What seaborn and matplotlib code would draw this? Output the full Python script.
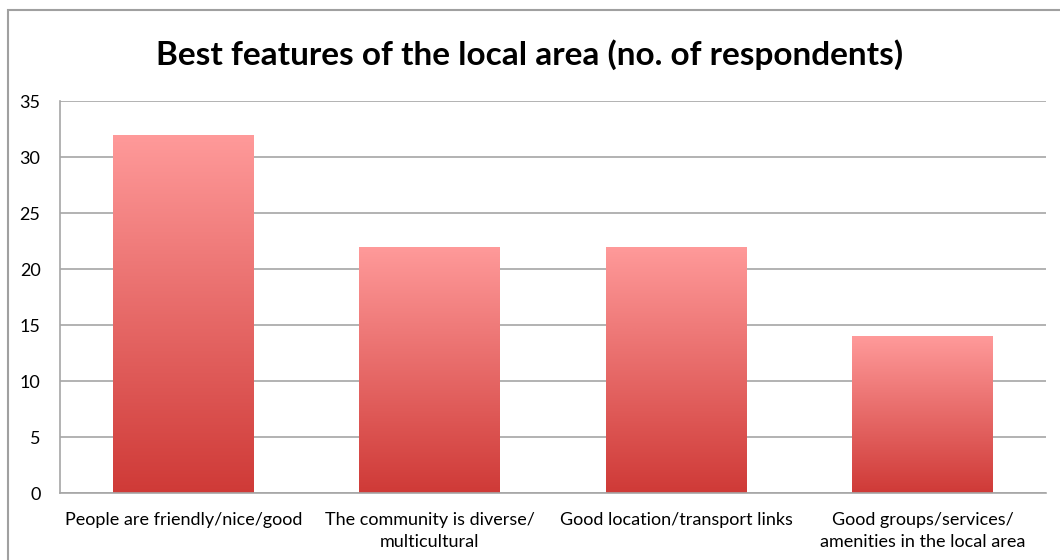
import numpy as np
import pandas as pd
import matplotlib.pyplot as plt
import matplotlib.colors as mcolors
import seaborn as sns
from matplotlib.patches import Rectangle

# Data
features = ['People are friendly/nice/good',
            'The community is diverse/\nmulticultural',
            'Good location/transport links',
            'Good groups/services/\namenities in the local area']
respondents = [32, 22, 22, 14]
y_ticks = [0, 5, 10, 15, 20, 25, 30, 35]

df = pd.DataFrame({'feature': features, 'count': respondents})

sns.set_style('white')
plt.rcParams['font.family'] = ['Lato', 'DejaVu Sans']
plt.rcParams['text.color'] = 'black'

fig = plt.figure(figsize=(10.6, 5.6), dpi=100)
ax = fig.add_axes([60 / 1060, 1 - 493 / 560, 986 / 1060, 392 / 560])

sns.barplot(data=df, x='feature', y='count', color='#d9534f', width=0.57, ax=ax, zorder=2)

# gradient fill: light pink at top to red at bottom
cmap = mcolors.LinearSegmentedColormap.from_list('bar', ['#cf3a37', '#ff9a9a'])
grad = np.linspace(0, 1, 256).reshape(-1, 1)
for p in ax.patches:
    x0, w, h = p.get_x(), p.get_width(), p.get_height()
    p.set_facecolor('none')
    p.set_edgecolor('none')
    im = ax.imshow(grad, cmap=cmap, origin='lower', aspect='auto',
                   extent=(x0, x0 + w, 0, h), zorder=2)
    im.set_clip_path(p)

ax.set_xlim(-0.5, len(features) - 0.5)
ax.set_ylim(0, 35)
ax.set_yticks(y_ticks)
ax.yaxis.grid(True, color='#a6a6a6', linewidth=1.2, zorder=0)
ax.set_axisbelow(True)
for s in ['top', 'right']:
    ax.spines[s].set_visible(False)
for s in ['left', 'bottom']:
    ax.spines[s].set_color('#a6a6a6')
    ax.spines[s].set_linewidth(1.2)
ax.tick_params(axis='both', length=0, labelsize=13, colors='black')
ax.tick_params(axis='y', pad=14)
ax.tick_params(axis='x', pad=14)
for lbl in ax.get_xticklabels():
    lbl.set_linespacing(1.45)
ax.set_xlabel('')
ax.set_ylabel('')

fig.text(0.5, 1 - 55 / 560, 'Best features of the local area (no. of respondents)',
         ha='center', va='center', fontsize=24, fontweight='bold', color='black')

# outer chart border
fig.patches.append(Rectangle((8 / 1060, -0.05), 1.1, 1 - 10 / 560 + 0.05,
                             transform=fig.transFigure, fill=False,
                             edgecolor='#a0a0a0', linewidth=1.5))

fig.savefig('out.png', dpi=100)
